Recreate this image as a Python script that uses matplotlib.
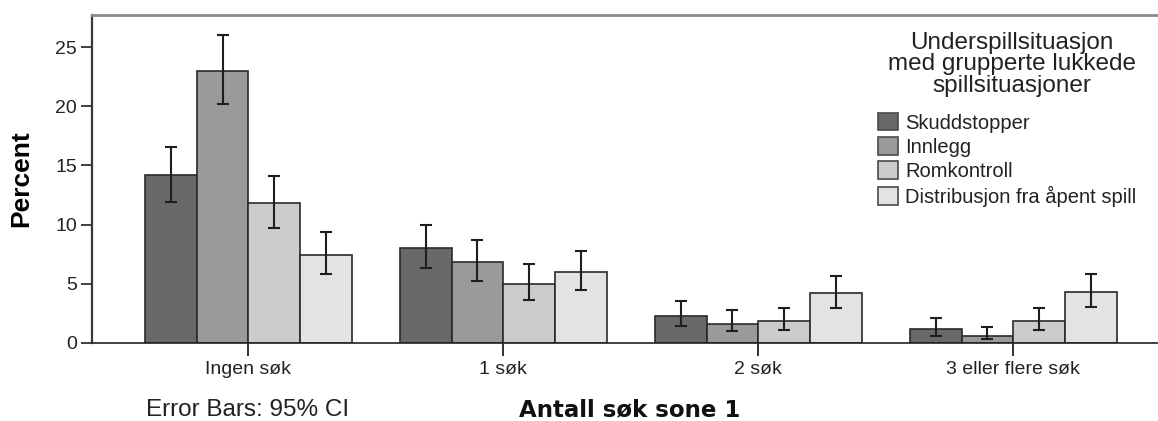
import matplotlib
matplotlib.use("Agg")
import numpy as np
import matplotlib.pyplot as plt
from matplotlib.patches import Patch

# percent of cases per search count, by play situation, with 95% CI
categories = ["Ingen søk", "1 søk", "2 søk", "3 eller flere søk"]
situations = ["Skuddstopper", "Innlegg", "Romkontroll", "Distribusjon fra åpent spill"]
skuddstopper = [14.2, 8.0, 2.3, 1.2]
innlegg = [23.0, 6.8, 1.6, 0.6]
romkontroll = [11.8, 5.0, 1.8, 1.8]
distribusjon = [7.4, 6.0, 4.2, 4.3]
ci_low = [
    [11.9, 6.3, 1.4, 0.6],
    [20.2, 5.25, 1.0, 0.3],
    [9.7, 3.6, 1.1, 1.1],
    [5.8, 4.5, 2.9, 3.0],
]
ci_high = [
    [16.6, 10.0, 3.5, 2.1],
    [26.0, 8.7, 2.8, 1.35],
    [14.1, 6.65, 2.9, 2.9],
    [9.35, 7.75, 5.65, 5.8],
]

values = [skuddstopper, innlegg, romkontroll, distribusjon]
fills = ["#686868", "#9a9a9a", "#cccccc", "#e3e3e3"]
edge = "#2a2a2a"
sans = ["Liberation Sans", "DejaVu Sans"]

W, H = 1158, 421
plt.rcParams["font.family"] = sans
fig = plt.figure(figsize=(W / 100, H / 100), dpi=100)
ax = fig.add_axes([92.3 / W, (H - 342.7) / H, 1 - 92.3 / W, (342.7 - 14.7) / H])

x = np.arange(len(categories))
w = 0.2027
for i, (vals, col) in enumerate(zip(values, fills)):
    pos = x + (i - 1.5) * w
    vals = np.array(vals)
    lo = vals - np.array(ci_low[i])
    hi = np.array(ci_high[i]) - vals
    ax.bar(pos, vals, width=w, color=col, edgecolor=edge, linewidth=1.2, zorder=2)
    ax.errorbar(pos, vals, yerr=[lo, hi], fmt="none", ecolor="#1e1e1e",
                elinewidth=1.5, capsize=4.3, capthick=1.5, zorder=3)

ax.set_xlim(-0.612, (W - 248.3) / 255)
ax.set_ylim(0, 27.76)
ax.set_yticks([0, 5, 10, 15, 20, 25])
ax.set_xticks(x)
ax.set_xticklabels(categories)
ax.tick_params(axis="y", length=8, width=1.3, color="#333333", labelsize=14,
               labelcolor="#222222", pad=3)
ax.tick_params(axis="x", length=9.5, width=1.3, color="#222222", labelsize=14,
               labelcolor="#222222", pad=4)

ax.spines["right"].set_visible(False)
ax.spines["top"].set_color("#8a8a8a")
ax.spines["top"].set_linewidth(2)
ax.spines["left"].set_color("#3a3a3a")
ax.spines["left"].set_linewidth(1.6)
ax.spines["bottom"].set_color("#222222")
ax.spines["bottom"].set_linewidth(1.2)

ax.set_ylabel("Percent", fontsize=19, fontweight="bold")
ax.yaxis.set_label_coords((33 - 92.3) / (W - 92.3), 0.5)

fig.text(629.5 / W, 1 - 416 / H, "Antall søk sone 1", ha="center", va="baseline",
         fontsize=16.5, fontweight="bold", family="DejaVu Sans", color="#111111")
fig.text(247.5 / W, 1 - 416.5 / H, "Error Bars: 95% CI", ha="center", va="baseline",
         fontsize=17.5, color="#222222")

# legend title drawn on its own so the line spacing can be kept tight
fig.text(1011.7 / W, 1 - 32 / H, "Underspillsituasjon\nmed grupperte lukkede\nspillsituasjoner",
         ha="center", va="top", multialignment="center", fontsize=17.5,
         linespacing=0.97, color="#222222")

handles = [Patch(facecolor=c, edgecolor="#4a4a4a", linewidth=1.2) for c in fills]
leg = ax.legend(handles, situations, loc="upper left",
                bbox_to_anchor=(878.3 / W, 1 - 113 / H),
                bbox_transform=fig.transFigure, frameon=False, fontsize=14.5,
                handlelength=1.0, handleheight=0.95, handletextpad=0.35,
                labelspacing=0.23, borderpad=0, borderaxespad=0)
for t in leg.get_texts():
    t.set_color("#222222")

fig.savefig("out.png", dpi=100)
